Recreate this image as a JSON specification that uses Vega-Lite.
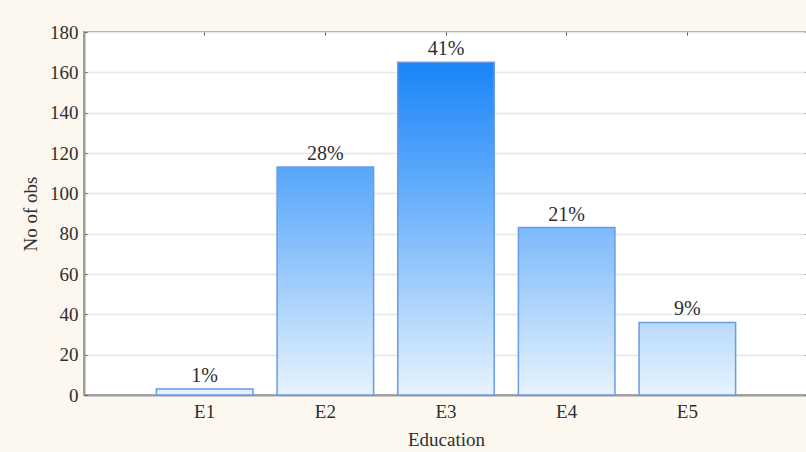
{
  "$schema": "https://vega.github.io/schema/vega-lite/v6.json",
  "width": 724,
  "height": 363,
  "autosize": "none",
  "padding": {"left": 84, "top": 32, "right": 0, "bottom": 57},
  "background": "#fdf8ef",
  "config": {
    "font": "Liberation Serif",
    "view": {"fill": "#ffffff", "stroke": "#a3a3a3", "strokeWidth": 2},
    "axis": {
      "labelFont": "Liberation Serif",
      "titleFont": "Liberation Serif",
      "labelFontSize": 19,
      "titleFontSize": 19,
      "titleFontWeight": "normal",
      "labelColor": "#2e2e2e",
      "titleColor": "#2e2e2e",
      "tickColor": "#555555",
      "tickSize": -3
    }
  },
  "data": {
    "values": [
      {"Education": "E1", "count": 3, "share": 0.01},
      {"Education": "E2", "count": 113, "share": 0.28},
      {"Education": "E3", "count": 165, "share": 0.41},
      {"Education": "E4", "count": 83, "share": 0.21},
      {"Education": "E5", "count": 36, "share": 0.09}
    ]
  },
  "resolve": {"axis": {"x": "independent", "y": "independent"}},
  "layer": [
    {
      "mark": {"type": "bar", "stroke": "#6a9be6", "strokeWidth": 1.5},
      "encoding": {
        "x": {
          "field": "Education",
          "type": "nominal",
          "scale": {"paddingInner": 0.2, "paddingOuter": 0.6},
          "axis": {
            "orient": "bottom",
            "title": "Education",
            "labelAngle": 0,
            "labelPadding": 10,
            "titlePadding": 9,
            "domainColor": "#9c9c9c",
            "domainWidth": 2
          }
        },
        "y": {
          "field": "count",
          "type": "quantitative",
          "scale": {"domain": [0, 180], "nice": false},
          "axis": {
            "orient": "left",
            "title": "No of obs",
            "values": [0, 20, 40, 60, 80, 100, 120, 140, 160, 180],
            "grid": true,
            "gridColor": "#e6e6e6",
            "gridWidth": 1.5,
            "labelPadding": 9,
            "titlePadding": 9,
            "domainColor": "#9c9c9c",
            "domainWidth": 2
          }
        },
        "color": {
          "condition": [
            {
              "test": "datum.Education === 'E1'",
              "value": {"gradient": "linear", "x1": 0, "x2": 0, "y1": -54, "y2": 1,
                "stops": [
                  {"offset": 0, "color": "#1a84f8"},
                  {"offset": 0.315, "color": "#55a6fa"},
                  {"offset": 0.497, "color": "#7cb9fb"},
                  {"offset": 0.782, "color": "#b8dafc"},
                  {"offset": 1, "color": "#e8f3fe"}
                ]}
            },
            {
              "test": "datum.Education === 'E2'",
              "value": {"gradient": "linear", "x1": 0, "x2": 0, "y1": -0.4602, "y2": 1,
                "stops": [
                  {"offset": 0, "color": "#1a84f8"},
                  {"offset": 0.315, "color": "#55a6fa"},
                  {"offset": 0.497, "color": "#7cb9fb"},
                  {"offset": 0.782, "color": "#b8dafc"},
                  {"offset": 1, "color": "#e8f3fe"}
                ]}
            },
            {
              "test": "datum.Education === 'E4'",
              "value": {"gradient": "linear", "x1": 0, "x2": 0, "y1": -0.988, "y2": 1,
                "stops": [
                  {"offset": 0, "color": "#1a84f8"},
                  {"offset": 0.315, "color": "#55a6fa"},
                  {"offset": 0.497, "color": "#7cb9fb"},
                  {"offset": 0.782, "color": "#b8dafc"},
                  {"offset": 1, "color": "#e8f3fe"}
                ]}
            },
            {
              "test": "datum.Education === 'E5'",
              "value": {"gradient": "linear", "x1": 0, "x2": 0, "y1": -3.5833, "y2": 1,
                "stops": [
                  {"offset": 0, "color": "#1a84f8"},
                  {"offset": 0.315, "color": "#55a6fa"},
                  {"offset": 0.497, "color": "#7cb9fb"},
                  {"offset": 0.782, "color": "#b8dafc"},
                  {"offset": 1, "color": "#e8f3fe"}
                ]}
            }
          ],
          "value": {"gradient": "linear", "x1": 0, "x2": 0, "y1": 0, "y2": 1,
            "stops": [
              {"offset": 0, "color": "#1a84f8"},
              {"offset": 0.315, "color": "#55a6fa"},
              {"offset": 0.497, "color": "#7cb9fb"},
              {"offset": 0.782, "color": "#b8dafc"},
              {"offset": 1, "color": "#e8f3fe"}
            ]}
        }
      }
    },
    {
      "mark": {"type": "text", "baseline": "bottom", "align": "center", "dy": -3, "fontSize": 20, "color": "#2e2e2e", "font": "Liberation Serif"},
      "encoding": {
        "x": {
          "field": "Education",
          "type": "nominal",
          "axis": {"orient": "top", "labels": false, "title": null, "domain": false}
        },
        "y": {
          "field": "count",
          "type": "quantitative",
          "axis": {"orient": "right", "labels": false, "title": null, "domain": false, "grid": false,
            "values": [0, 20, 40, 60, 80, 100, 120, 140, 160, 180]}
        },
        "text": {"field": "share", "type": "quantitative", "format": ".0%"}
      }
    }
  ]
}
